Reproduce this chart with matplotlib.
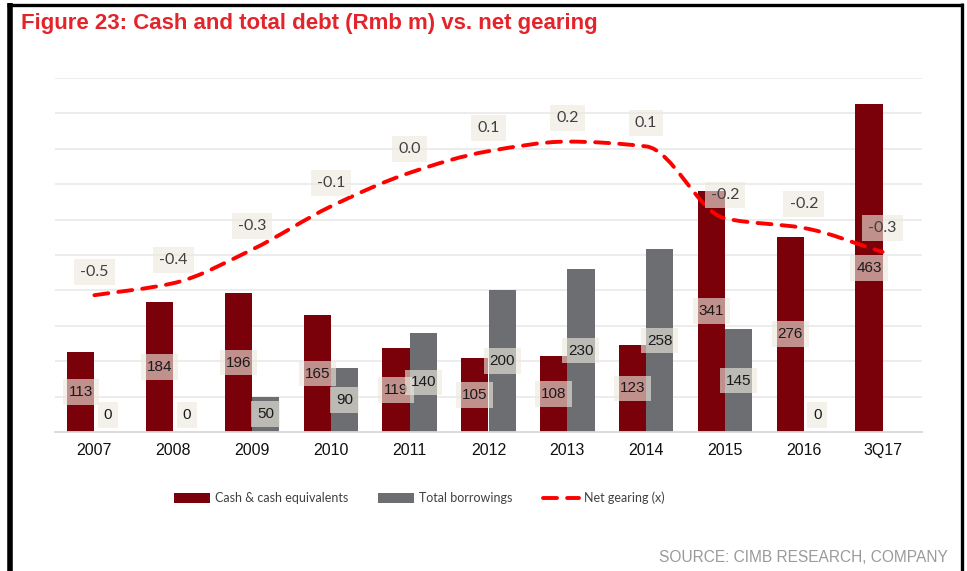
import matplotlib
matplotlib.use("Agg")
import matplotlib.pyplot as plt
import numpy as np
from matplotlib import font_manager
from matplotlib.path import Path
from matplotlib.patches import PathPatch, Patch
from matplotlib.lines import Line2D

# ---- data ----
categories = ["2007", "2008", "2009", "2010", "2011", "2012", "2013", "2014", "2015", "2016", "3Q17"]
cash = [113, 184, 196, 165, 119, 105, 108, 123, 341, 276, 463]
borrowings = [0, 0, 50, 90, 140, 200, 230, 258, 145, 0, np.nan]
net_gearing = [-0.48, -0.43, -0.29, -0.11, 0.03, 0.12, 0.16, 0.14, -0.16, -0.20, -0.30]

series_names = ["Cash & cash equivalents", "Total borrowings", "Net gearing (x)"]
title = "Figure 23: Cash and total debt (Rmb m) vs. net gearing"
source = "SOURCE: CIMB RESEARCH, COMPANY"

# ---- style ----
CASH_C = "#7A0009"
DEBT_C = "#6D6E72"
LINE_C = "#FF0000"
BOX_C = "#ECE9DE"
TITLE_C = "#E3242B"

installed = {f.name for f in font_manager.fontManager.ttflist}
ARIAL = "Liberation Sans"
SOFT = "Lato" if "Lato" in installed else "DejaVu Sans"

W, H = 967, 571
fig = plt.figure(figsize=(W / 100, H / 100), dpi=100)
fig.patch.set_facecolor("white")


def fx(px):
    return px / W


def fy(py):
    return 1 - py / H


ax = fig.add_axes([fx(55), fy(432), fx(922) - fx(55), fy(78) - fy(432)])
ax2 = ax.twinx()

x = np.arange(len(categories))
bw = 0.345

ax.bar(x - bw / 2, cash, width=bw, color=CASH_C, zorder=2)
ax.bar(x + bw / 2, borrowings, width=bw, color=DEBT_C, zorder=2)

ax.set_xlim(-0.5, len(categories) - 0.5)
ax.set_ylim(0, 500)
ax.set_yticks(np.arange(50, 501, 50))
ax.yaxis.grid(True, color="#EBEBEB", linewidth=1.3, zorder=0)
ax.set_axisbelow(True)
ax.tick_params(axis="y", length=0, labelleft=False)
ax.set_xticks(x)
ax.set_xticklabels(categories, fontsize=11.5, family=ARIAL, color="#111111")
ax.tick_params(axis="x", length=0, pad=8)
for s in ["top", "right", "left"]:
    ax.spines[s].set_visible(False)
ax.spines["bottom"].set_color("#D9D9D9")
ax.spines["bottom"].set_linewidth(1.3)

ax2.set_ylim(-1.05, 0.425)
ax2.set_yticks([])
for s in ax2.spines.values():
    s.set_visible(False)

# smoothed net-gearing curve: cubic Bezier segments through the points,
# with shape-preserving (monotone) tangents so the curve does not overshoot
gx = x.astype(float)
gy = np.asarray(net_gearing, dtype=float)
d = np.diff(gy)
m = np.zeros_like(gy)
m[0], m[-1] = d[0], d[-1]
for k in range(1, len(gy) - 1):
    if d[k - 1] * d[k] > 0:
        m[k] = 2.0 / (1.0 / d[k - 1] + 1.0 / d[k])
verts = [(gx[0], gy[0])]
codes = [Path.MOVETO]
for k in range(len(gy) - 1):
    h = gx[k + 1] - gx[k]
    verts += [(gx[k] + h / 3, gy[k] + m[k] * h / 3),
              (gx[k + 1] - h / 3, gy[k + 1] - m[k + 1] * h / 3),
              (gx[k + 1], gy[k + 1])]
    codes += [Path.CURVE4] * 3
DASH = (0, (3.6, 2.6))
curve = PathPatch(Path(verts, codes), fill=False, edgecolor=LINE_C, linewidth=2.8,
                  linestyle=DASH, capstyle="round", zorder=3)
ax2.add_patch(curve)

# data labels
box = dict(boxstyle="square,pad=0.38", facecolor=BOX_C, edgecolor="none", alpha=0.62)
for i in range(len(categories)):
    v = cash[i]
    ax2.text(x[i] - bw / 2, max(v / 2, 24), f"{v:.0f}", transform=ax.transData,
             ha="center", va="center", fontsize=11, family=ARIAL, color="#1A1A1A",
             bbox=box, zorder=5)
    b = borrowings[i]
    if not np.isnan(b):
        ax2.text(x[i] + bw / 2, max(b / 2, 24), f"{b:.0f}", transform=ax.transData,
                 ha="center", va="center", fontsize=11, family=ARIAL, color="#1A1A1A",
                 bbox=box, zorder=5)
    g = net_gearing[i]
    ax2.annotate(f"{g:.1f}", xy=(x[i], g), xytext=(0, 17), textcoords="offset points",
                 ha="center", va="center", fontsize=11.5, family=SOFT, color="#404040",
                 bbox=box, zorder=6)

# legend
handles = [
    Patch(facecolor=CASH_C, edgecolor="none"),
    Patch(facecolor=DEBT_C, edgecolor="none"),
    Line2D([], [], color=LINE_C, linewidth=2.8, linestyle=DASH, dash_capstyle="round"),
]
fig.legend(handles, series_names, loc="center", bbox_to_anchor=(fx(419), fy(498)),
           ncol=3, frameon=False, handlelength=2.9, handleheight=0.8,
           handletextpad=0.4, columnspacing=2.4,
           prop={"family": SOFT, "size": 9}, labelcolor="#404040")

# title and source
fig.text(fx(21), fy(29), title, fontsize=16, fontweight="bold", family=ARIAL,
         color=TITLE_C, ha="left", va="baseline")
fig.text(fx(948), fy(562), source, fontsize=11.2, family=ARIAL, color="#9A9A9A",
         ha="right", va="baseline")

# outer frame (top, left, right)
fig.add_artist(Line2D([fx(7), fx(962)], [fy(4.5), fy(4.5)], color="black", linewidth=2.4,
                      transform=fig.transFigure, solid_capstyle="butt"))
fig.add_artist(Line2D([fx(10), fx(10)], [fy(3), fy(571)], color="black", linewidth=4.0,
                      transform=fig.transFigure, solid_capstyle="butt"))
fig.add_artist(Line2D([fx(961.5), fx(961.5)], [fy(3), fy(571)], color="black", linewidth=2.4,
                      transform=fig.transFigure, solid_capstyle="butt"))

fig.savefig("out.png", dpi=100, facecolor="white")
